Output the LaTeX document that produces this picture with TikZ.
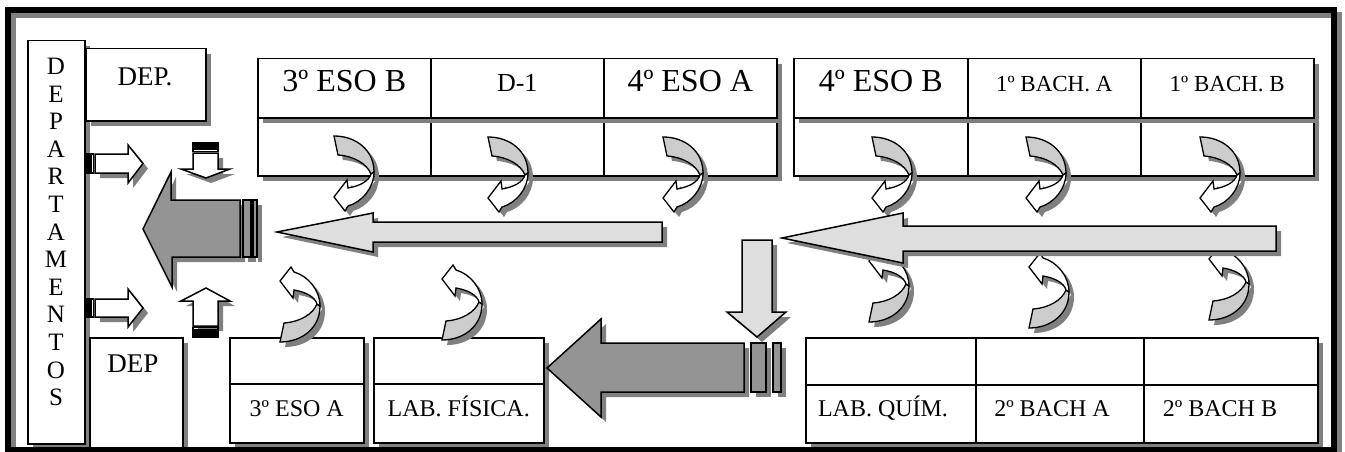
\documentclass[tikz,border=0pt]{standalone}
\usepackage{fontspec}
\setmainfont{Liberation Serif}
\usetikzlibrary{shadows}
\definecolor{shcol}{gray}{0.5}
\definecolor{lightg}{gray}{0.87}
\definecolor{curveg}{gray}{0.80}
\definecolor{darkg}{gray}{0.58}
\newcommand\cvpathA{(0,0) .. controls (22,0) and (40,14) .. (40,36) -- (37,38) .. controls (33,28) and (20,20) .. (4,19) -- cycle}
\newcommand\cvpathB{(40,36) .. controls (40,52) and (28,66) .. (14,70) -- (11,75) -- (0,61) -- (13,44) -- (14,52) .. controls (26,50) and (35,45) .. (37,38) -- cycle}
\newcommand\curvarrow[3]{%
  \begin{scope}[shift={(#1+5,#2+5)},yscale=#3]
    \fill[shcol] \cvpathA; \fill[shcol] \cvpathB;
  \end{scope}
  \begin{scope}[shift={(#1,#2)},yscale=#3]
    \filldraw[cvgray] \cvpathA; \filldraw[cvwhite] \cvpathB;
  \end{scope}}
\begin{document}
\begin{tikzpicture}[x=1pt,y=-1pt,line join=miter,
  shd/.style={drop shadow={shadow xshift=5pt,shadow yshift=-5pt,opacity=1,fill=shcol}},
  cell/.style={draw=black,line width=1.5pt,fill=white,rectangle,inner sep=0pt,anchor=north west,shd},
  big/.style={font=\fontsize{32}{36}\selectfont},
  dtext/.style={font=\fontsize{26}{29}\selectfont},
  small/.style={font=\fontsize{23}{26}\selectfont},
  mid/.style={font=\fontsize{24}{27}\selectfont},
  deptext/.style={font=\fontsize{27}{30}\selectfont},
  lbl/.style={text height=0.68em,text depth=0pt},
  cvgray/.style={fill=curveg,draw=black,line width=1.3pt},
  cvwhite/.style={fill=white,draw=black,line width=1.3pt},
  larrow/.style={fill=lightg,draw=black,line width=1.5pt,shd},
  darrow/.style={fill=darkg,draw=black,line width=1.5pt,shd},
  warrow/.style={fill=white,draw=black,line width=1.5pt,shd},
  stripe/.style={draw=black,line width=1.2pt}
]
\useasboundingbox (0,0) rectangle (1345,452);

% departamentos
\node[cell,minimum width=57pt,minimum height=403pt] (deps) at (27,40) {};
\node[align=center,inner sep=0pt,font=\fontsize{25}{27.6}\selectfont] (depl) at (56,232)
  {D\\E\\P\\A\\R\\T\\A\\M\\E\\N\\T\\O\\S};
\node[cell,minimum width=120pt,minimum height=72pt] (dep1) at (85,48) {};
\node[deptext] (dep1t) at (145,77) {DEP.};
\node[cell,minimum width=93pt,minimum height=130pt] (dep2) at (89,337) {};
\node[deptext] (dep2t) at (133,364) {DEP};

% small white arrows
\fill[stripe] (85,154) rectangle (90,173);
\draw[stripe] (91.5,154) rectangle (93.5,173);
\filldraw[warrow] (95,154) -- (128,154) -- (128,145) -- (143,163.5) -- (128,183) -- (128,173) -- (95,173) -- cycle;
\fill[stripe] (85,299) rectangle (90,317);
\draw[stripe] (91.5,299) rectangle (93.5,317);
\filldraw[warrow] (95,299) -- (128,299) -- (128,289) -- (143,308) -- (128,327) -- (128,317) -- (95,317) -- cycle;
\fill[stripe] (193,143) rectangle (218,148);
\draw[stripe] (193,149.5) rectangle (218,151.5);
\filldraw[warrow] (193,153) -- (218,153) -- (218,169) -- (230,169) -- (206,178) -- (181,169) -- (193,169) -- cycle;
\filldraw[warrow] (181,301) -- (206,288) -- (230,301) -- (218,301) -- (218,326) -- (193,326) -- (193,301) -- cycle;
\draw[stripe] (193,327.5) rectangle (218,329.5);
\fill[stripe] (193,331) rectangle (218,337);

% dark arrow top-left
\filldraw[darrow] (240,200) -- (171,200) -- (171,172) -- (143,229) -- (172,287) -- (172,257) -- (240,257) -- cycle;
\filldraw[darrow] (243,200) rectangle (251,257);
\filldraw[darrow] (253,200) rectangle (257,257);

% top tables: lower rows first
\node[cell,minimum width=173pt,minimum height=58pt] (tlb1) at (257,117) {};
\node[cell,minimum width=173pt,minimum height=58pt] (tlb2) at (430,117) {};
\node[cell,minimum width=173pt,minimum height=58pt] (tlb3) at (603,117) {};
\node[cell,minimum width=173pt,minimum height=59pt,big,lbl] (tlt1) at (257,58) {3º ESO B};
\node[cell,minimum width=173pt,minimum height=59pt,dtext,lbl] (tlt2) at (430,58) {D-1};
\node[cell,minimum width=173pt,minimum height=59pt,big,lbl] (tlt3) at (603,58) {4º ESO A};
\node[cell,minimum width=174pt,minimum height=58pt] (trb1) at (793,117) {};
\node[cell,minimum width=173pt,minimum height=58pt] (trb2) at (967,117) {};
\node[cell,minimum width=173pt,minimum height=58pt] (trb3) at (1140,117) {};
\node[cell,minimum width=174pt,minimum height=59pt,big,lbl] (trt1) at (793,58) {4º ESO B};
\node[cell,minimum width=173pt,minimum height=59pt,small,lbl] (trt2) at (967,58) {1º BACH. A};
\node[cell,minimum width=173pt,minimum height=59pt,small,lbl] (trt3) at (1140,58) {1º BACH. B};

% bottom boxes
\node[cell,minimum width=134pt,minimum height=46pt] (bla1) at (229,337) {};
\node[cell,minimum width=170pt,minimum height=46pt] (blb1) at (373,337) {};
\node[cell,minimum width=134pt,minimum height=59pt,mid,lbl] (bla2) at (229,383) {3º ESO A};
\node[cell,minimum width=170pt,minimum height=59pt,mid,lbl] (blb2) at (373,383) {LAB. FÍSICA.};
\node[cell,minimum width=170pt,minimum height=47pt] (br1) at (805,337) {};
\node[cell,minimum width=168pt,minimum height=47pt] (br2) at (975,337) {};
\node[cell,minimum width=174pt,minimum height=47pt] (br3) at (1143,337) {};
\node[cell,minimum width=170pt,minimum height=58pt] (br4) at (805,384) {};
\node[cell,minimum width=168pt,minimum height=58pt] (br5) at (975,384) {};
\node[cell,minimum width=174pt,minimum height=58pt] (br6) at (1143,384) {};
\node[mid,lbl] (br4t) at (883,413) {LAB. QUÍM.};
\node[mid,lbl] (br5t) at (1052,413) {2º BACH A};
\node[mid,lbl] (br6t) at (1220,413) {2º BACH B};

% curved arrows
\curvarrow{334}{136}{1}
\curvarrow{488}{137}{1}
\curvarrow{663}{137}{1}
\curvarrow{872}{137}{1}
\curvarrow{1026}{137}{1}
\curvarrow{1200}{137}{1}
\curvarrow{280}{342}{-1}
\curvarrow{442}{340}{-1}
\curvarrow{869}{322}{-1}
\curvarrow{1029}{328}{-1}
\curvarrow{1209}{320}{-1}

% light arrows
\filldraw[larrow] (662,222) -- (373,222) -- (373,213) -- (277,232) -- (373,252) -- (373,242) -- (662,242) -- cycle;
\filldraw[larrow] (1276,226) -- (903,226) -- (903,213) -- (782,238) -- (903,263) -- (903,251) -- (1276,251) -- cycle;

% dark arrow bottom
\filldraw[darrow] (744,343) -- (601,343) -- (601,319) -- (547,368) -- (601,417) -- (601,392) -- (744,392) -- cycle;
\filldraw[darrow] (751,343) rectangle (766,392);
\filldraw[darrow] (773,343) rectangle (781,392);

% vertical light arrow
\filldraw[larrow] (742,240) -- (772,240) -- (772,312) -- (786,312) -- (757,337) -- (727,312) -- (742,312) -- cycle;

% frame
\draw[shcol,line width=6pt] (13,15) rectangle (1339,455);
\draw[black,line width=6pt] (8,10) rectangle (1334,450);
\end{tikzpicture}
\end{document}
